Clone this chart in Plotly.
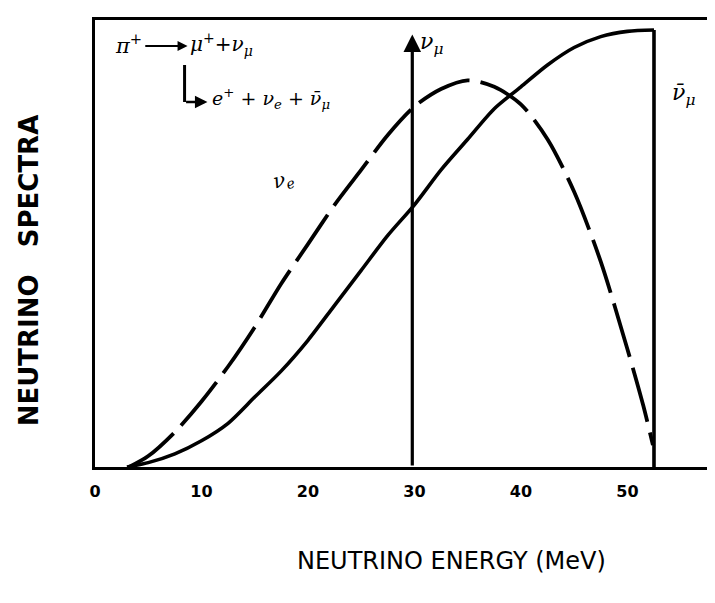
import plotly.graph_objects as go

# ---- data ----
# anti-muon-neutrino spectrum (solid curve)
numubar_energy = [3.0, 5.0, 7.5, 10.0, 12.5, 15.0, 17.5, 20.0, 22.5, 25.0, 27.5,
                  30.0, 32.5, 35.0, 37.5, 40.0, 42.5, 45.0, 47.5, 50.0, 52.5]
numubar_flux = [0.0, 0.01, 0.03, 0.06, 0.10, 0.16, 0.22, 0.29, 0.37, 0.45, 0.53,
                0.60, 0.68, 0.75, 0.82, 0.87, 0.92, 0.96, 0.985, 0.997, 1.0]
endpoint_energy = 52.5

# electron-neutrino spectrum (dashed curve)
nue_energy = [3.2, 5.0, 7.5, 10.0, 12.5, 15.0, 17.5, 20.0, 22.5, 25.0, 27.5,
              30.0, 32.5, 35.0, 37.5, 40.0, 42.5, 45.0, 47.5, 50.0, 51.5, 52.4]
nue_flux = [0.0, 0.025, 0.08, 0.15, 0.23, 0.32, 0.42, 0.51, 0.60, 0.68, 0.76,
            0.825, 0.865, 0.885, 0.87, 0.83, 0.75, 0.63, 0.47, 0.27, 0.14, 0.05]

# monochromatic muon-neutrino line
numu_energy = 29.8
numu_height = 0.99

x_ticks = [0, 10, 20, 30, 40, 50]
x_tick_text = ["<b>0</b>", "<b>10</b>", "<b>20</b>", "<b>30</b>", "<b>40</b>", "<b>50</b>"]

# ---- layout geometry (pixels) ----
W, H = 715, 603
ML, MR, MT, MB = 87, 0, 12, 144
PW, PH = W - ML - MR, H - MT - MB
X_MAX = 58.7
Y_MAX = 1.023


def ex(px):
    """pixel column -> energy (for label placement)"""
    return (px - ML) / PW * X_MAX


def vy(py):
    """pixel row -> spectrum value (for label placement)"""
    return (H - MB - py) / PH * Y_MAX


def paper_x(px):
    return (px - ML) / PW


def paper_y(py):
    return (H - MB - py) / PH


fig = go.Figure()

fig.add_trace(go.Scatter(x=numubar_energy, y=numubar_flux, mode="lines",
                         line=dict(color="black", width=3.6, shape="spline", smoothing=0.8),
                         hoverinfo="skip", showlegend=False))
fig.add_trace(go.Scatter(x=[endpoint_energy, endpoint_energy], y=[numubar_flux[-1], 0],
                         mode="lines", line=dict(color="black", width=3.6),
                         hoverinfo="skip", showlegend=False))
fig.add_trace(go.Scatter(x=nue_energy, y=nue_flux, mode="lines",
                         line=dict(color="black", width=3.8, dash="56px,11px",
                                   shape="spline", smoothing=0.8),
                         hoverinfo="skip", showlegend=False))

serif = "DejaVu Serif"
annotations = [
    # nu_mu arrow
    dict(x=numu_energy, y=numu_height, ax=numu_energy, ay=0, xref="x", yref="y",
         axref="x", ayref="y", showarrow=True, arrowhead=2, arrowsize=1.1,
         arrowwidth=3.2, arrowcolor="black", text=""),
    dict(x=ex(425), y=vy(35), xref="x", yref="y", showarrow=False,
         text="<i>ν<sub>μ</sub></i>", font=dict(family=serif, size=22, color="black")),
    dict(x=ex(678), y=vy(86), xref="x", yref="y", showarrow=False,
         text="<i>ν̄<sub>μ</sub></i>", font=dict(family=serif, size=22, color="black")),
    dict(x=ex(276), y=vy(172), xref="x", yref="y", showarrow=False, textangle=-15,
         text="<i>ν<sub>e</sub></i>", font=dict(family=serif, size=20, color="black")),
    # reaction text
    dict(x=ex(121), y=vy(36), xref="x", yref="y", showarrow=False,
         text="<i>π<sup>+</sup></i>", font=dict(family=serif, size=21, color="black")),
    dict(x=ex(180), y=vy(38), ax=ex(136), ay=vy(38), xref="x", yref="y", axref="x", ayref="y",
         showarrow=True, arrowhead=2, arrowsize=1, arrowwidth=2, arrowcolor="black", text=""),
    dict(x=ex(214), y=vy(36), xref="x", yref="y", showarrow=False,
         text="<i>μ<sup>+</sup>+ν<sub>μ</sub></i>", font=dict(family=serif, size=20, color="black")),
    dict(x=ex(200), y=vy(94), ax=ex(177), ay=vy(94), xref="x", yref="y", axref="x", ayref="y",
         showarrow=True, arrowhead=2, arrowsize=1, arrowwidth=2.5, arrowcolor="black", text=""),
    dict(x=ex(264), y=vy(90), xref="x", yref="y", showarrow=False,
         text="<i>e<sup>+</sup> + ν<sub>e</sub> + ν̄<sub>μ</sub></i>",
         font=dict(family=serif, size=19, color="black")),
    # axis titles
    dict(x=paper_x(445), y=paper_y(553), xref="paper", yref="paper", showarrow=False,
         xanchor="center", yanchor="middle",
         text="NEUTRINO ENERGY (MeV)", font=dict(family="DejaVu Sans", size=24, color="black")),
    dict(x=paper_x(21), y=paper_y(262), xref="paper", yref="paper", showarrow=False,
         xanchor="center", yanchor="middle",
         textangle=-90, text="<b>NEUTRINO   SPECTRA</b>",
         font=dict(family="DejaVu Sans", size=26, color="black")),
]

shapes = [
    dict(type="line", xref="x", yref="y", x0=ex(177), x1=ex(177), y0=vy(57), y1=vy(94),
         line=dict(color="black", width=3)),
]

fig.update_layout(
    width=W, height=H,
    margin=dict(l=ML, r=MR, t=MT, b=MB),
    paper_bgcolor="white", plot_bgcolor="white",
    annotations=annotations, shapes=shapes,
    xaxis=dict(range=[0, X_MAX], showgrid=False, zeroline=False,
               showline=True, linecolor="black", linewidth=3, mirror=True,
               tickmode="array", tickvals=x_ticks, ticktext=x_tick_text, ticks="",
               ticklabelstandoff=8,
               tickfont=dict(family="DejaVu Sans", size=16, color="black")),
    yaxis=dict(range=[0, Y_MAX], showgrid=False, zeroline=False,
               showline=True, linecolor="black", linewidth=3, mirror=True,
               showticklabels=False, ticks=""),
)

fig.write_html("out.html")
